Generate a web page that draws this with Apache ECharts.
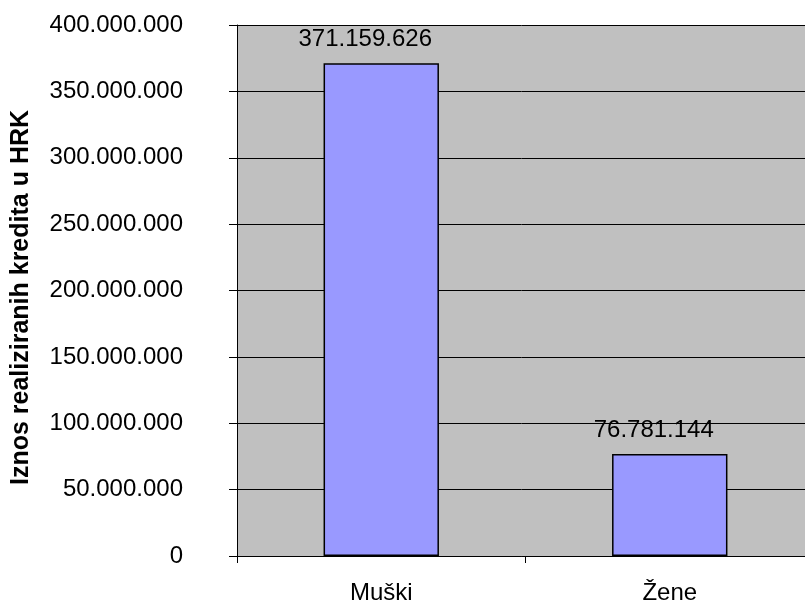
<!DOCTYPE html>
<html>
<head>
<meta charset="utf-8">
<script src="https://cdn.jsdelivr.net/npm/echarts@6/dist/echarts.min.js"></script>
<style>
  html, body { margin: 0; padding: 0; background: #fff; }
  #chart { width: 805px; height: 605px; }
</style>
</head>
<body>
<div id="chart"></div>
<script>
const categories = ["Muški", "Žene"];
const values = [371159626, 76781144];
const yTitle = "Iznos realiziranih kredita u HRK";

function fmt(v) {
  return String(Math.round(v)).replace(/\B(?=(\d{3})+(?!\d))/g, ".");
}

var myChart = echarts.init(document.getElementById("chart"));

let option = {
  animation: false,
  textStyle: { fontFamily: "Liberation Sans, Arial, sans-serif", color: "#000" },
  grid: {
    left: 237,
    width: 577,
    top: 25,
    bottom: 49,
    outerBoundsMode: "none",
    containLabel: false,
    show: true,
    backgroundColor: "#c0c0c0",
    borderWidth: 0,
  },
  xAxis: {
    type: "category",
    data: categories,
    axisLine: { lineStyle: { color: "#000", width: 1 } },
    axisTick: { show: true, length: 7, lineStyle: { color: "#000" } },
    axisLabel: { fontSize: 24, color: "#000", margin: 25 },
  },
  yAxis: {
    type: "value",
    min: 0,
    max: 400000000,
    interval: 50000000,
    name: yTitle,
    nameLocation: "middle",
    nameGap: 203,
    nameTextStyle: {
      fontSize: 25,
      fontWeight: "bold",
      color: "#000",
      padding: [0, 14, 0, 0],
    },
    axisLine: { show: true, lineStyle: { color: "#000", width: 1 } },
    axisTick: { show: true, length: 8, lineStyle: { color: "#000" } },
    axisLabel: { fontSize: 24, color: "#000", margin: 54, formatter: fmt },
    splitLine: { show: true, lineStyle: { color: "#000", width: 1 } },
  },
  series: [
    {
      type: "bar",
      data: values,
      barWidth: "40%",
      itemStyle: { color: "#9999ff", borderColor: "#000", borderWidth: 1.5 },
      label: {
        show: true,
        position: "top",
        distance: 12,
        offset: [-16, 0],
        fontSize: 24,
        color: "#000",
        formatter: (p) => fmt(p.value),
      },
    },
  ],
};
myChart.setOption(option);
</script>
</body>
</html>
